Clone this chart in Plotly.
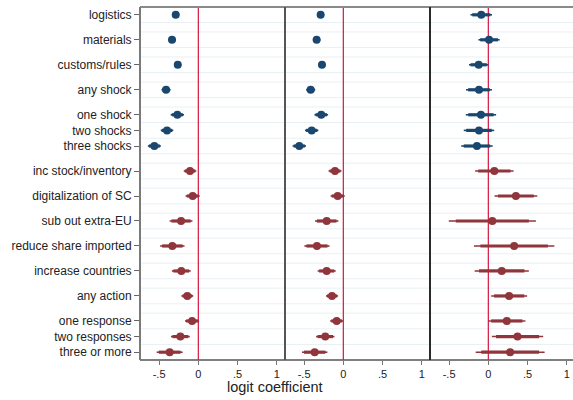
import plotly.graph_objects as go

# ---------------- data ----------------
rows = ["logistics", "materials", "customs/rules", "any shock",
        "one shock", "two shocks", "three shocks",
        "inc stock/inventory", "digitalization of SC", "sub out extra-EU",
        "reduce share imported", "increase countries", "any action",
        "one response", "two responses", "three or more"]
# rows sharing a block id are packed tightly together
blocks = [1, 2, 3, 4, 5, 5, 5, 6, 7, 8, 9, 10, 11, 12, 12, 12]
n_shock = 7  # first 7 rows are shocks (navy), the rest responses (maroon)

# panel 1: point estimates and 95% CI half-widths
est1 = [-0.288, -0.335, -0.262, -0.411, -0.267, -0.399, -0.560,
        -0.106, -0.072, -0.220, -0.331, -0.217, -0.140, -0.080, -0.229, -0.365]
hw1 = [0.045, 0.048, 0.045, 0.058, 0.085, 0.080, 0.083,
       0.080, 0.090, 0.145, 0.155, 0.120, 0.075, 0.090, 0.120, 0.165]
# panel 2
est2 = [-0.289, -0.340, -0.272, -0.416, -0.281, -0.403, -0.561,
        -0.106, -0.072, -0.212, -0.336, -0.212, -0.144, -0.085, -0.230, -0.365]
hw2 = [0.045, 0.048, 0.045, 0.058, 0.087, 0.085, 0.085,
       0.082, 0.090, 0.148, 0.160, 0.115, 0.077, 0.082, 0.117, 0.162]
# panel 3
est3 = [-0.090, 0.009, -0.123, -0.119, -0.094, -0.119, -0.145,
        0.077, 0.351, 0.051, 0.329, 0.171, 0.265, 0.235, 0.372, 0.278]
hw3 = [0.137, 0.135, 0.123, 0.165, 0.193, 0.194, 0.200,
       0.245, 0.272, 0.555, 0.512, 0.345, 0.229, 0.237, 0.327, 0.439]

xtick_vals = [-0.5, 0, 0.5, 1]
xtick_text = ["-.5", "0", ".5", "1"]
x_title = "logit coefficient"

# ---------------- layout helpers ----------------
pos = [0.0]
for i in range(1, len(rows)):
    pos.append(pos[-1] + (1.0 if blocks[i] == blocks[i - 1] else 1.6))

Z90 = 1.645 / 1.96
NAVY = "#1a476f"
MAROON = "#90353b"
ZERO = "#d4173f"
FONT = "Liberation Sans, Arial, sans-serif"

W, H = 573, 400
ML, MR, MT, MB = 140, 0, 7, 40
PW = W - ML - MR
pw = 145.0
doms = [[0, pw / PW], [pw / PW, 2 * pw / PW], [2 * pw / PW, 1.0]]
xr_lo, xr_hi = -0.743, 1.104
scale = pw / (xr_hi - xr_lo)
ranges = [[xr_lo, xr_hi], [xr_lo, xr_hi],
          [xr_lo, xr_lo + (doms[2][1] - doms[2][0]) * PW / scale]]

fig = go.Figure()
panels = [(est1, hw1), (est2, hw2), (est3, hw3)]
for p, (est, hw) in enumerate(panels):
    xa = "x" if p == 0 else f"x{p + 1}"
    for sl, col in ((slice(0, n_shock), NAVY), (slice(n_shock, None), MAROON)):
        e = est[sl]
        h = hw[sl]
        yy = pos[sl]
        fig.add_trace(go.Scatter(
            x=e, y=yy, mode="markers", xaxis=xa, yaxis="y",
            marker=dict(size=1, color="rgba(0,0,0,0)"),
            error_x=dict(type="data", array=h, symmetric=True,
                         thickness=1.6, width=0, color=col),
            showlegend=False, hoverinfo="skip"))
        fig.add_trace(go.Scatter(
            x=e, y=yy, mode="markers", xaxis=xa, yaxis="y",
            marker=dict(size=8, color=col, symbol="circle"),
            error_x=dict(type="data", array=[v * Z90 for v in h], symmetric=True,
                         thickness=3.2, width=0, color=col),
            showlegend=False))

ylo = pos[0] - 0.5
yhi = pos[-1] + 0.5

shapes = []
# faint row-boundary grid lines
bounds = sorted(set([round(v - 0.5, 3) for v in pos] + [round(v + 0.5, 3) for v in pos]))
for b in bounds:
    if abs(b - ylo) < 1e-6 or abs(b - yhi) < 1e-6:
        continue
    shapes.append(dict(type="line", xref="paper", yref="y", x0=0, x1=1, y0=b, y1=b,
                       line=dict(color="#e8f0f4", width=1), layer="below"))
# zero lines
for p in range(3):
    xa = "x" if p == 0 else f"x{p + 1}"
    shapes.append(dict(type="line", xref=xa, yref="paper", x0=0, x1=0, y0=0, y1=1,
                       line=dict(color=ZERO, width=1.2), layer="below"))
# frame
shapes.append(dict(type="line", xref="paper", yref="paper", x0=0, x1=1, y0=1, y1=1,
                   line=dict(color="#8a8a8a", width=2)))
shapes.append(dict(type="line", xref="paper", yref="paper", x0=0, x1=1, y0=0, y1=0,
                   line=dict(color="#555555", width=1.5)))
shapes.append(dict(type="line", xref="paper", yref="paper", x0=0, x1=0, y0=0, y1=1,
                   line=dict(color="#7a7a7a", width=2)))
shapes.append(dict(type="line", xref="paper", yref="paper", x0=doms[1][0], x1=doms[1][0], y0=0, y1=1,
                   line=dict(color="#555555", width=2)))
shapes.append(dict(type="line", xref="paper", yref="paper", x0=doms[2][0], x1=doms[2][0], y0=0, y1=1,
                   line=dict(color="#2a2a2a", width=2)))

layout = dict(
    width=W, height=H, margin=dict(l=ML, r=MR, t=MT, b=MB),
    paper_bgcolor="white", plot_bgcolor="white",
    font=dict(family=FONT, color="#222222"),
    showlegend=False, shapes=shapes,
    yaxis=dict(range=[yhi, ylo], tickvals=pos, ticktext=rows, showgrid=False,
               zeroline=False, ticks="outside", ticklen=5, tickcolor="#666666",
               tickfont=dict(size=12, color="#222222"), anchor="x", showline=False),
    annotations=[dict(text=x_title, xref="paper", yref="paper",
                      x=(274.5 - ML) / PW, y=-0.0, yshift=-27, showarrow=False,
                      xanchor="center", yanchor="middle",
                      font=dict(size=14.5, color="#222222", family=FONT))],
)
for p in range(3):
    key = "xaxis" if p == 0 else f"xaxis{p + 1}"
    layout[key] = dict(domain=doms[p], range=ranges[p], tickvals=xtick_vals,
                       ticktext=xtick_text, showgrid=False, zeroline=False,
                       ticks="outside", ticklen=4, tickcolor="#777777",
                       tickfont=dict(size=11, color="#222222"),
                       anchor="y", showline=False, fixedrange=True)
fig.update_layout(**layout)
fig.write_html("out.html")
